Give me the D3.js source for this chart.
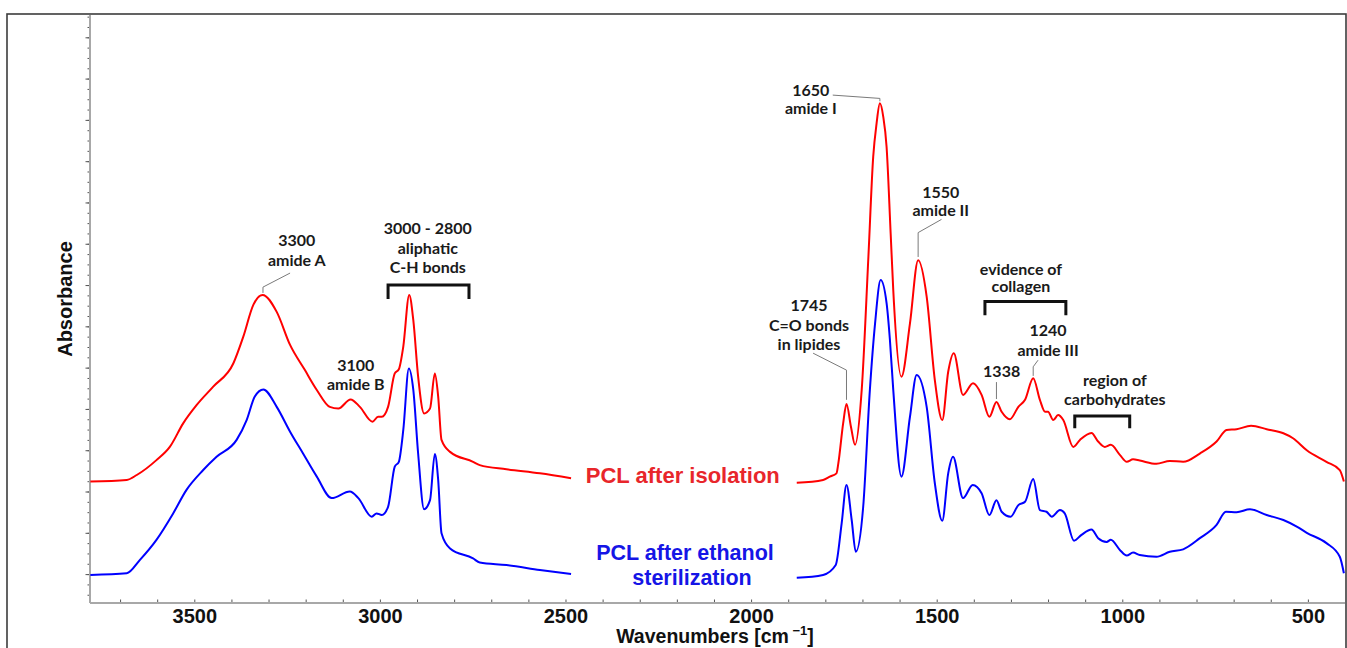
<!DOCTYPE html>
<html>
<head>
<meta charset="utf-8">
<script src="https://cdn.jsdelivr.net/npm/d3@7/dist/d3.min.js"></script>
<style>
  html, body { margin: 0; padding: 0; background: #fff; }
  svg { display: block; }
</style>
</head>
<body>
<svg id="chart" width="1347" height="648"></svg>
<script>
// FTIR spectra of the periodontal ligament (PCL) samples, absorbance vs wavenumber.
// null marks the break in the traces where the sample labels sit.
const isolationWn = [3780, 3682, 3655, 3602, 3566, 3530, 3494, 3449, 3395, 3368, 3341, 3316, 3278, 3242, 3202, 3170,
  3135, 3112, 3079, 3054, 3020, 3005, 2995, 2978, 2960, 2949, 2937, 2921, 2910, 2897, 2881, 2865, 2852, 2843, 2834,
  2811, 2749, 2731, 2659, 2569, 2485, null,
  1877, 1806, 1788, 1770, 1765, 1752, 1743, 1731, 1720, 1702, 1684, 1671, 1662, 1653, 1644, 1635, 1624, 1617, 1595,
  1572, 1550, 1527, 1505, 1485, 1469, 1454, 1429, 1402, 1379, 1358, 1339, 1325, 1303, 1280, 1262, 1240, 1222, 1208,
  1200, 1186, 1173, 1159, 1132, 1114, 1083, 1065, 1047, 1031, 1006, 988, 971, 953, 908, 872, 836, 791, 746, 719,
  692, 653, 611, 566, 540, 503, 450, 414, 403];
const isolationAbs = [0.324, 0.328, 0.340, 0.376, 0.408, 0.465, 0.509, 0.554, 0.610, 0.675, 0.752, 0.776, 0.735, 0.655,
  0.594, 0.546, 0.505, 0.501, 0.523, 0.505, 0.469, 0.481, 0.481, 0.505, 0.586, 0.596, 0.651, 0.776, 0.715, 0.578,
  0.489, 0.501, 0.586, 0.530, 0.425, 0.396, 0.372, 0.364, 0.354, 0.344, 0.332, null,
  0.321, 0.328, 0.336, 0.344, 0.368, 0.465, 0.512, 0.457, 0.413, 0.546, 0.868, 1.111, 1.191, 1.240, 1.208, 1.135,
  0.925, 0.788, 0.578, 0.707, 0.860, 0.772, 0.570, 0.473, 0.590, 0.635, 0.534, 0.562, 0.534, 0.481, 0.517, 0.493,
  0.475, 0.505, 0.522, 0.574, 0.522, 0.493, 0.493, 0.473, 0.485, 0.473, 0.408, 0.425, 0.442, 0.421, 0.408, 0.413,
  0.388, 0.372, 0.378, 0.375, 0.367, 0.374, 0.372, 0.392, 0.421, 0.449, 0.451, 0.459, 0.451, 0.441, 0.429, 0.400,
  0.372, 0.352, 0.324];

const ethanolWn = [3780, 3682, 3647, 3602, 3557, 3521, 3476, 3440, 3386, 3359, 3337, 3314, 3278, 3242, 3207, 3170,
  3130, 3081, 3058, 3022, 3009, 2995, 2978, 2960, 2949, 2937, 2922, 2910, 2897, 2881, 2865, 2852, 2843, 2834, 2811,
  2749, 2731, 2659, 2569, 2485, null,
  1877, 1806, 1772, 1756, 1743, 1729, 1718, 1698, 1680, 1666, 1651, 1635, 1626, 1617, 1595, 1572, 1554, 1527, 1505,
  1485, 1469, 1456, 1429, 1403, 1379, 1358, 1339, 1325, 1301, 1280, 1262, 1240, 1222, 1204, 1190, 1168, 1155, 1130,
  1110, 1083, 1065, 1042, 1031, 1006, 988, 971, 953, 908, 872, 836, 791, 746, 721, 692, 656, 611, 566, 530, 503,
  450, 414, 403];
const ethanolAbs = [0.098, 0.102, 0.134, 0.183, 0.247, 0.304, 0.352, 0.384, 0.425, 0.473, 0.530, 0.547, 0.505, 0.445,
  0.392, 0.336, 0.284, 0.300, 0.284, 0.239, 0.247, 0.243, 0.263, 0.360, 0.372, 0.449, 0.598, 0.546, 0.392, 0.257,
  0.279, 0.391, 0.328, 0.199, 0.162, 0.138, 0.128, 0.122, 0.110, 0.100, null,
  0.091, 0.098, 0.122, 0.223, 0.316, 0.231, 0.154, 0.263, 0.546, 0.707, 0.812, 0.756, 0.667, 0.546, 0.336, 0.481,
  0.582, 0.505, 0.320, 0.229, 0.344, 0.384, 0.284, 0.316, 0.296, 0.243, 0.279, 0.251, 0.239, 0.267, 0.275, 0.330,
  0.255, 0.251, 0.239, 0.255, 0.247, 0.181, 0.195, 0.208, 0.187, 0.178, 0.183, 0.158, 0.145, 0.152, 0.146, 0.142,
  0.154, 0.160, 0.187, 0.219, 0.251, 0.250, 0.257, 0.243, 0.231, 0.215, 0.200, 0.175, 0.142, 0.102];

// Axis ticks (cm^-1 and arbitrary absorbance units; the absorbance axis is unlabelled)
const xTickLabels = [3500, 3000, 2500, 2000, 1500, 1000, 500];
const xMinorTicks = d3.range(3700, 499, -100);
const yMajorTicks = d3.range(1, 15).map(i => i / 10);
const yMinorTicks = d3.range(2, 59).map(i => i * 0.025);

// Band assignments: text lines, label anchor [wn, abs], optional leader polyline, optional bracket
const annotations = [
  { lines: ["3300", "amide A"], at: [3224, 0.894], leader: [[3242, 0.829], [3315, 0.795], [3315, 0.781]] },
  { lines: ["3000 - 2800", "aliphatic", "C-H bonds"], at: [2871, 0.923], bracket: [2978, 2760, 0.800, 0.766] },
  { lines: ["3100", "amide B"], at: [3065, 0.592] },
  { lines: ["1745", "C=O bonds", "in lipides"], at: [1844, 0.737], leader: [[1833, 0.635], [1743, 0.594], [1743, 0.522]] },
  { lines: ["1650", "amide I"], at: [1839, 1.258], lead: 18, leader: [[1780, 1.260], [1653, 1.252], [1653, 1.245]] },
  { lines: ["1550", "amide II"], at: [1489, 1.011], lead: 18, leader: [[1487, 0.959], [1550, 0.927], [1550, 0.868]] },
  { lines: ["evidence of", "collagen"], at: [1273, 0.824], lead: 17, bracket: [1370, 1152, 0.760, 0.727] },
  { lines: ["1240", "amide III"], at: [1200, 0.676], leader: [[1227, 0.618], [1240, 0.602], [1240, 0.580]] },
  { lines: ["1338"], at: [1325, 0.578], leader: [[1339, 0.565], [1339, 0.524]] },
  { lines: ["region of", "carbohydrates"], at: [1020, 0.555], lead: 18.5, bracket: [1128, 980, 0.483, 0.453] }
];

const svg = d3.select("#chart");
const plot = { left: 90, right: 1345, top: 15, bottom: 603 };

const x = d3.scaleLinear().domain([3781, 400]).range([plot.left, plot.right]);
const y = d3.scaleLinear().domain([0.03, 1.454]).range([plot.bottom, plot.top]);

// outer frame
svg.append("rect")
  .attr("x", 7).attr("y", 14).attr("width", 1339).attr("height", 700)
  .attr("fill", "none").attr("stroke", "#3c3c3c").attr("stroke-width", 1.6);

// y axis: gray spine, unlabelled ticks pointing outwards
const yMinorAxis = d3.axisLeft(y).tickValues(yMinorTicks).tickSize(2.5).tickFormat("");
const yMajorAxis = d3.axisLeft(y).tickValues(yMajorTicks).tickSize(4.5).tickFormat("");
const gyMinor = svg.append("g").attr("transform", `translate(${plot.left},0)`).call(yMinorAxis);
const gyMajor = svg.append("g").attr("transform", `translate(${plot.left},0)`).call(yMajorAxis);
[gyMinor, gyMajor].forEach(g => {
  g.select(".domain").remove();
  g.selectAll(".tick line").attr("stroke", "#555").attr("stroke-width", 1);
});
svg.append("line")
  .attr("x1", plot.left).attr("x2", plot.left)
  .attr("y1", plot.top).attr("y2", plot.bottom)
  .attr("stroke", "#a8a8a8").attr("stroke-width", 2);

// x axis: gray baseline, short ticks every 100 cm^-1 pointing up, bold labels every 500
const gxMinor = svg.append("g").attr("transform", `translate(0,${plot.bottom})`)
  .call(d3.axisBottom(x).tickValues(xMinorTicks).tickSizeInner(-3.5).tickSizeOuter(0).tickFormat(""));
gxMinor.select(".domain").remove();
gxMinor.selectAll(".tick line").attr("stroke", "#555").attr("stroke-width", 1);
svg.append("line")
  .attr("x1", plot.left).attr("x2", plot.right)
  .attr("y1", plot.bottom).attr("y2", plot.bottom)
  .attr("stroke", "#a8a8a8").attr("stroke-width", 2);

const gxLabels = svg.append("g").attr("transform", `translate(0,${plot.bottom})`)
  .call(d3.axisBottom(x).tickValues(xTickLabels).tickSize(0).tickPadding(6).tickFormat(d3.format("d")));
gxLabels.select(".domain").remove();
gxLabels.selectAll("text")
  .attr("fill", "#111")
  .style("font-family", "'Liberation Sans', Arial, sans-serif")
  .style("font-weight", "bold")
  .style("font-size", "20px");

// axis titles
const xTitle = svg.append("text")
  .attr("x", 715).attr("y", 643)
  .attr("text-anchor", "middle")
  .attr("fill", "#111")
  .style("font-family", "'Liberation Sans', Arial, sans-serif")
  .style("font-weight", "bold")
  .style("font-size", "19.5px");
xTitle.append("tspan").text("Wavenumbers [cm");
xTitle.append("tspan").attr("dy", -8).style("font-size", "13px").text(" \u22121");
xTitle.append("tspan").attr("dy", 8).text("]");

svg.append("text")
  .attr("transform", "translate(72,299) rotate(-90)")
  .attr("text-anchor", "middle")
  .attr("fill", "#111")
  .style("font-family", "'Liberation Sans', Arial, sans-serif")
  .style("font-weight", "bold")
  .style("font-size", "20px")
  .text("Absorbance");

// spectra
const series = [
  { wn: isolationWn, abs: isolationAbs, color: "#ff0000" },
  { wn: ethanolWn, abs: ethanolAbs, color: "#0000ff" }
];
const line = d3.line()
  .defined(d => d[0] !== null && d[1] !== null)
  .x(d => x(d[0]))
  .y(d => y(d[1]))
  .curve(d3.curveMonotoneX);

series.forEach(s => {
  svg.append("path")
    .datum(s.wn.map((w, i) => [w, s.abs[i]]))
    .attr("d", line)
    .attr("fill", "none")
    .attr("stroke", s.color)
    .attr("stroke-width", 2)
    .attr("stroke-linejoin", "round");
});

// sample labels placed in the break of the traces
const sampleFont = "'Liberation Sans', Arial, sans-serif";
svg.append("text")
  .attr("x", x(2184)).attr("y", y(0.321))
  .attr("text-anchor", "middle")
  .attr("fill", "#e8262b")
  .style("font-family", sampleFont).style("font-weight", "bold").style("font-size", "22px")
  .text("PCL after isolation");
const ethLabel = svg.append("text")
  .attr("text-anchor", "middle")
  .attr("fill", "#1515e6")
  .style("font-family", sampleFont).style("font-weight", "bold").style("font-size", "21.5px");
ethLabel.append("tspan")
  .attr("x", x(2178)).attr("y", y(0.127) - 2.5)
  .text("PCL after ethanol");
ethLabel.append("tspan")
  .attr("x", x(2178) + 7).attr("y", y(0.127) + 22.5)
  .text("sterilization");

// band annotations
const ann = svg.append("g");
annotations.forEach(a => {
  const lead = a.lead || 19.5;
  const t = ann.append("text")
    .attr("text-anchor", "middle")
    .attr("fill", "#1a1a1a")
    .style("font-family", "Lato, 'Open Sans', sans-serif")
    .style("font-weight", "bold")
    .style("font-size", "16px");
  a.lines.forEach((ln, i) => {
    t.append("tspan")
      .attr("x", x(a.at[0]))
      .attr("y", y(a.at[1]) + i * lead)
      .text(ln);
  });
  if (a.leader) {
    ann.append("path")
      .attr("d", d3.line().x(p => x(p[0])).y(p => y(p[1]))(a.leader))
      .attr("fill", "none")
      .attr("stroke", "#7a7a7a")
      .attr("stroke-width", 1);
  }
  if (a.bracket) {
    const [w1, w2, top, bot] = a.bracket;
    ann.append("path")
      .attr("d", `M${x(w1)},${y(bot)}V${y(top)}H${x(w2)}V${y(bot)}`)
      .attr("fill", "none")
      .attr("stroke", "#111")
      .attr("stroke-width", 3);
  }
});
</script>
</body>
</html>
